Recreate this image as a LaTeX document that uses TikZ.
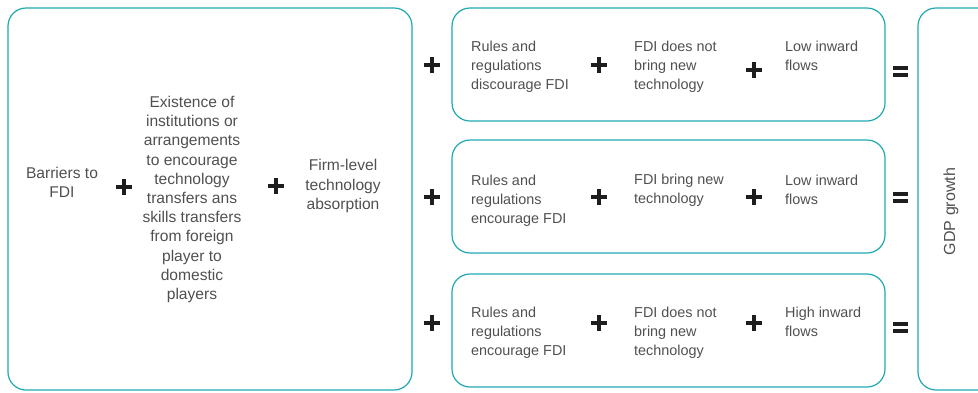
\documentclass[tikz,border=0pt]{standalone}
\usepackage{fontspec}
\setmainfont{Liberation Sans}
\definecolor{teal}{HTML}{1FA9B1}
\definecolor{txt}{HTML}{505050}
\definecolor{sym}{HTML}{1E1E1E}
\begin{document}
\begin{tikzpicture}[x=1pt,y=-1pt,
  box/.style={draw=teal,line width=1.2pt,rounded corners=18pt},
  lbl/.style={text=txt,font=\fontsize{14.4}{19}\selectfont,inner sep=0pt},
  clbl/.style={lbl,align=center,font=\fontsize{15.6}{19.2}\selectfont},
  llbl/.style={lbl,align=left,anchor=west},
  plussym/.style={minimum size=16pt,inner sep=0pt,path picture={
     \fill[sym] ([xshift=-8pt,yshift=-2.2pt]path picture bounding box.center) rectangle ++(16pt,4.4pt);
     \fill[sym] ([xshift=-2.2pt,yshift=-8pt]path picture bounding box.center) rectangle ++(4.4pt,16pt);}},
  eqsym/.style={minimum size=16pt,inner sep=0pt,path picture={
     \fill[sym] ([xshift=-7.5pt,yshift=1.5pt]path picture bounding box.center) rectangle ++(15pt,4pt);
     \fill[sym] ([xshift=-7.5pt,yshift=-5.5pt]path picture bounding box.center) rectangle ++(15pt,4pt);}}
]
\useasboundingbox (0,0) rectangle (978,392);
\begin{scope}
\clip (0,0) rectangle (978,392);
% boxes
\draw[box] (8,8) rectangle (412,390);
\draw[box] (452,8) rectangle (885,121);
\draw[box] (452,140) rectangle (885,253);
\draw[box] (452,274) rectangle (885,387);
\draw[box] (918,8) rectangle (1000,390);
\end{scope}
% left box content
\node[clbl] (bar) at (62,182.5) {Barriers to\\FDI};
\node[plussym] (pl1) at (124,187) {};
\node[clbl] (ex) at (192,199.5) {Existence of\\institutions or\\arrangements\\to encourage\\technology\\transfers ans\\skills transfers\\from foreign\\player to\\domestic\\players};
\node[plussym] (pl2) at (276,186) {};
\node[clbl] (firm) at (343,186) {Firm-level\\technology\\absorption};
% row pluses
\node[plussym] (pa) at (432,65) {};
\node[plussym] (pb) at (432,197) {};
\node[plussym] (pc) at (432,323) {};
% row 1
\node[llbl] (r1a) at (471,66.5) {Rules and\\regulations\\discourage FDI};
\node[plussym] (r1p1) at (599,65) {};
\node[llbl] (r1b) at (634,66.5) {FDI does not\\bring new\\technology};
\node[plussym] (r1p2) at (754,70) {};
\node[llbl] (r1c) at (785,56) {Low inward\\flows};
\node[eqsym] (e1) at (900,71) {};
% row 2
\node[llbl] (r2a) at (471,200.5) {Rules and\\regulations\\encourage FDI};
\node[plussym] (r2p1) at (599,197) {};
\node[llbl] (r2b) at (634,190.5) {FDI bring new\\technology};
\node[plussym] (r2p2) at (754,197) {};
\node[llbl] (r2c) at (785,190) {Low inward\\flows};
\node[eqsym] (e2) at (900,197) {};
% row 3
\node[llbl] (r3a) at (471,332.5) {Rules and\\regulations\\encourage FDI};
\node[plussym] (r3p1) at (599,323) {};
\node[llbl] (r3b) at (634,332.5) {FDI does not\\bring new\\technology};
\node[plussym] (r3p2) at (754,323) {};
\node[llbl] (r3c) at (785,322) {High inward\\flows};
\node[eqsym] (e3) at (900,327) {};
% GDP
\node[lbl,rotate=90,font=\fontsize{16}{19}\selectfont] (gdp) at (951,211.5) {GDP growth};
\end{tikzpicture}
\end{document}
